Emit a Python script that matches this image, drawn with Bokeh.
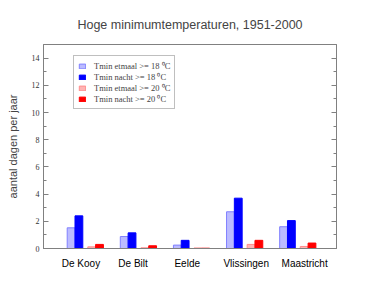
from bokeh.plotting import figure
from bokeh.models import LinearAxis, FixedTicker, Range1d, Legend, LegendItem, ColumnDataSource
from bokeh.embed import file_html
from bokeh.resources import INLINE

stations = ["De Kooy", "De Bilt", "Eelde", "Vlissingen", "Maastricht"]
etmaal18 = [1.52, 0.88, 0.25, 2.7, 1.6]
nacht18 = [2.4, 1.15, 0.6, 3.7, 2.05]
etmaal20 = [0.12, 0.05, 0.04, 0.3, 0.15]
nacht20 = [0.3, 0.2, 0.02, 0.6, 0.4]
series_labels = ["Tmin etmaal >= 18 \u2070C", "Tmin nacht >= 18 \u2070C",
                 "Tmin etmaal >= 20 \u2070C", "Tmin nacht >= 20 \u2070C"]
y_ticks = [0, 2, 4, 6, 8, 10, 12, 14]

idx = list(range(len(stations)))
bw = 0.147
offsets = [bw / 2, bw * 1.5, 0.388 + bw / 2, 0.388 + bw * 1.5]
label_shift = [0.26, 0.24, 0.26, 0.37, 0.47]
fills = ["#bbbbff", "#0000ff", "#ffb4b4", "#ff0000"]
lines = ["#8080ff", "#0000ff", "#ff8c8c", "#ff0000"]

p = figure(width=379, height=292, output_backend="svg", toolbar_location=None,
           x_range=Range1d(-0.446, 5.07), y_range=Range1d(0, 15),
           min_border_left=43, min_border_right=43, min_border_top=44, min_border_bottom=44)
p.grid.visible = False
p.outline_line_color = "#808080"
p.outline_line_width = 1
p.background_fill_color = "white"
p.border_fill_color = "white"

items = []
for vals, off, fc, lc, lab in zip([etmaal18, nacht18, etmaal20, nacht20], offsets, fills, lines, series_labels):
    src = ColumnDataSource(dict(x=[i + off for i in idx], top=vals))
    r = p.vbar(x="x", top="top", bottom=0, width=bw, source=src, fill_color=fc, line_color=lc, line_width=1)
    items.append(LegendItem(label=lab, renderers=[r]))

# x axis
tick_pos = [i + s for i, s in zip(idx, label_shift)]
p.xaxis.ticker = FixedTicker(ticks=tick_pos)
p.xaxis.major_label_overrides = {t: s for t, s in zip(tick_pos, stations)}
p.xaxis.major_tick_line_color = None
p.xaxis.minor_tick_line_color = None
p.xaxis.axis_line_color = "#808080"
p.xaxis.major_label_text_font = "Liberation Sans"
p.xaxis.major_label_text_font_size = "10px"
p.xaxis.major_label_text_color = "black"
p.xaxis.major_label_standoff = 3

# y axis
yt = FixedTicker(ticks=y_ticks, minor_ticks=list(range(0, 16)))
p.yaxis.ticker = yt
p.yaxis.axis_label = "aantal dagen per jaar"
p.yaxis.axis_label_text_font = "Liberation Sans"
p.yaxis.axis_label_text_font_style = "normal"
p.yaxis.axis_label_text_font_size = "11px"
p.yaxis.axis_label_standoff = 10
p.yaxis.major_label_text_font = "Liberation Serif"
p.yaxis.major_label_text_font_size = "8px"
p.yaxis.major_label_text_color = "#333333"
p.yaxis.major_tick_in = 5
p.yaxis.major_tick_out = 0
p.yaxis.minor_tick_in = 3
p.yaxis.minor_tick_out = 0
p.yaxis.axis_line_color = "#808080"
p.yaxis.major_tick_line_color = "#808080"
p.yaxis.minor_tick_line_color = "#808080"
p.yaxis.major_label_standoff = 4

ra = LinearAxis(ticker=FixedTicker(ticks=y_ticks, minor_ticks=list(range(0, 16))))
ra.major_label_text_font_size = "0px"
ra.major_label_text_color = None
ra.major_tick_in = 5
ra.major_tick_out = 0
ra.minor_tick_in = 3
ra.minor_tick_out = 0
ra.axis_line_color = "#808080"
ra.major_tick_line_color = "#808080"
ra.minor_tick_line_color = "#808080"
p.add_layout(ra, "right")

p.title.text = "Hoge minimumtemperaturen, 1951-2000"
p.title.text_font = "Liberation Sans"
p.title.text_font_style = "normal"
p.title.text_font_size = "12.5px"
p.title.align = "center"
p.title.standoff = 25

legend = Legend(items=items, location=(30, 139))
legend.label_text_font = "Liberation Serif"
legend.label_text_font_size = "8.5px"
legend.glyph_width = 8
legend.glyph_height = 6
legend.label_height = 9
legend.label_standoff = 8
legend.spacing = -3
legend.padding = 4
legend.margin = 0
legend.border_line_color = "#808080"
legend.border_line_width = 1
legend.background_fill_color = "white"
legend.background_fill_alpha = 1
p.add_layout(legend, "center")

open("out.html", "w").write(file_html(p, INLINE))
